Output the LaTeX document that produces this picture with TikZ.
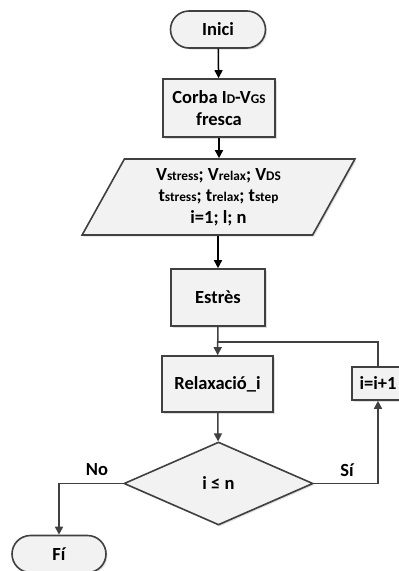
\documentclass[tikz,border=0pt]{standalone}
\usepackage{fontspec}
\setmainfont{Carlito}
\usetikzlibrary{shapes.geometric,shapes.misc,arrows.meta,shadows}
\definecolor{boxfill}{RGB}{242,242,242}
\definecolor{edge}{RGB}{64,64,64}
\newcommand{\sm}[1]{{\fontsize{13.3}{15}\selectfont #1}}
\begin{document}
\begin{tikzpicture}[x=1pt,y=-1pt,
  every node/.style={font=\fontsize{18.5}{21.5}\selectfont\bfseries, align=center},
  base/.style={draw=edge, fill=boxfill, line width=1.6pt,
    drop shadow={shadow xshift=1.5pt, shadow yshift=-1.5pt, opacity=0.25, fill=gray}},
  procbox/.style={base, rectangle, inner sep=0pt},
  terminal/.style={base, rounded rectangle, inner sep=0pt, minimum width=95pt, minimum height=37pt},
  iobox/.style={base, trapezium, trapezium left angle=64, trapezium right angle=116,
    trapezium stretches=true, inner sep=0pt, minimum width=273pt, minimum height=76pt},
  decision/.style={base, diamond, inner sep=0pt, minimum width=189pt, minimum height=83pt},
  flow/.style={line width=1.5pt, -{Triangle[length=8pt,width=8pt]}},
  topflow/.style={flow, draw=black},
  lowflow/.style={flow, draw=edge},
  plain/.style={line width=1.5pt, draw=edge},
  lbl/.style={inner sep=0pt}
]
\useasboundingbox (0,0) rectangle (399,571);

% nodes
\node[terminal] (inici) at (218,29.5) {Inici};
\node[procbox, minimum width=112pt, minimum height=58pt] (corba) at (219,108)
  {Corba I\sm{D}-V\sm{GS}\\fresca};
\node[iobox] (params) at (218.5,197)
  {V\sm{stress}; V\sm{relax}; V\sm{DS}\\t\sm{stress}; t\sm{relax}; t\sm{step}\\i=1; l; n};
\node[procbox, minimum width=94pt, minimum height=57pt] (estres) at (218,297.5) {Estrès};
\node[procbox, minimum width=111pt, minimum height=56pt] (relax) at (217.5,384) {Relaxació\_i};
\node[procbox, minimum width=52pt, minimum height=33pt] (inc) at (378,383.5) {i=i+1};
\node[decision] (dec) at (218.5,483.5) {i ≤ n};
\node[terminal, minimum width=94pt] (fi) at (59,554) {Fí};

% connectors
\draw[topflow] (inici) -- (corba);
\draw[topflow] (corba.south) -- (corba.south |- params.north);
\draw[topflow] (params.south -| estres.north) -- (estres.north);
\draw[lowflow] (estres) -- (relax);
\coordinate (join) at (estres.south |- 0,342);
\draw[plain] (inc.north) |- (join);
\draw[lowflow] (relax) -- (dec);
\draw[lowflow] (dec.east) -| (inc.south);
\draw[lowflow] (dec.west) -| (fi.north);

% branch labels
\node[lbl] (si) at (347,470) {Sí};
\node[lbl] (no) at (97,470) {No};
\end{tikzpicture}
\end{document}
